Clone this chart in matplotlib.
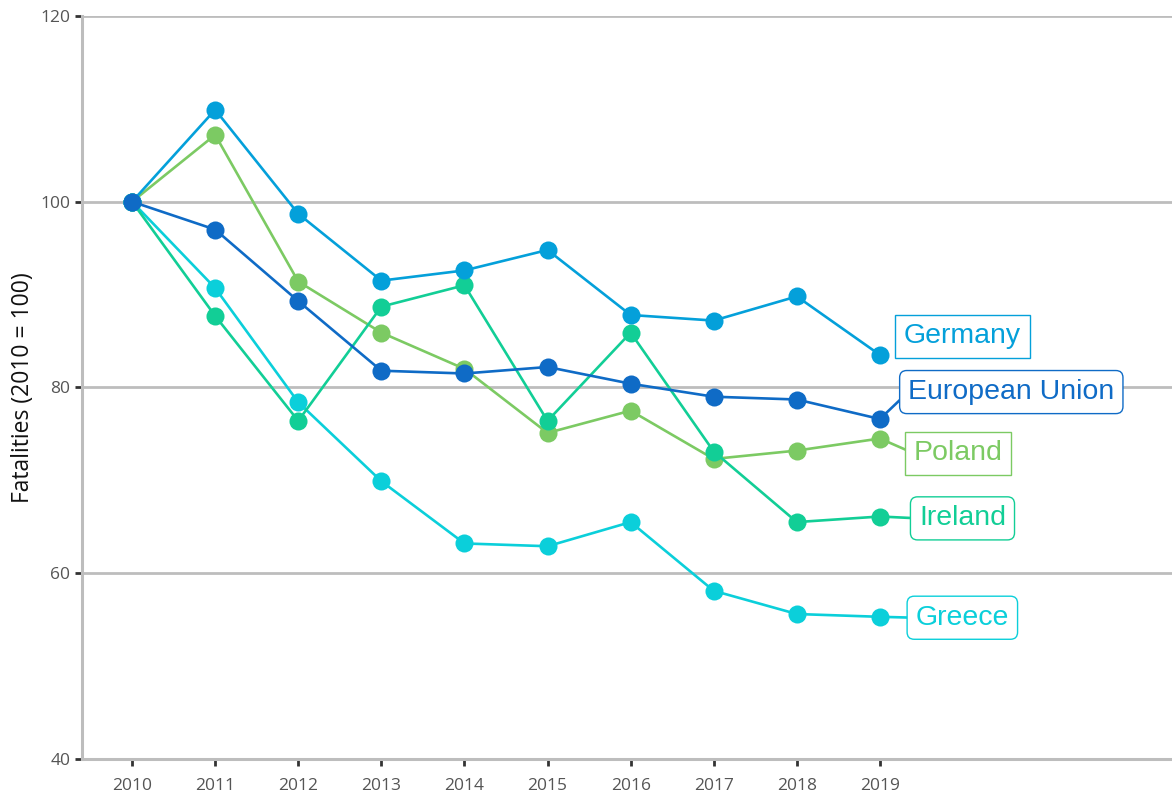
import matplotlib.pyplot as plt

# Data (2010 = 100)
years = [2010, 2011, 2012, 2013, 2014, 2015, 2016, 2017, 2018, 2019]
greece = [100, 90.7, 78.4, 69.9, 63.2, 62.9, 65.5, 58.1, 55.6, 55.3]
poland = [100, 107.2, 91.4, 85.9, 82.0, 75.1, 77.5, 72.3, 73.2, 74.5]
ireland = [100, 87.7, 76.4, 88.7, 91.0, 76.4, 85.9, 73.1, 65.5, 66.1]
germany = [100, 109.9, 98.7, 91.5, 92.6, 94.8, 87.8, 87.2, 89.8, 83.5]
eu = [100, 97.0, 89.3, 81.8, 81.5, 82.2, 80.4, 79.0, 78.7, 76.6]

series = [
    ("Greece", greece, "#0bcfda"),
    ("Poland", poland, "#7cca63"),
    ("Ireland", ireland, "#12ce96"),
    ("Germany", germany, "#04a0da"),
    ("European Union", eu, "#0f6bc6"),
]

# label anchor (x, y), box style, draw leader line
label_pos = {
    "Germany": (2019.29, 85.5, "square", False),
    "European Union": (2019.34, 79.5, "round,rounding_size=0.25", True),
    "Poland": (2019.41, 72.9, "square", True),
    "Ireland": (2019.47, 65.9, "round,rounding_size=0.25", True),
    "Greece": (2019.43, 55.2, "round,rounding_size=0.25", True),
}

fig = plt.figure(figsize=(11.72, 7.98), dpi=100)
ax = fig.add_axes([0.07, 0.049, 0.93, 0.931])

for z, (name, vals, col) in enumerate(series):
    ax.plot(years, vals, color=col, lw=1.9, marker="o", markersize=13,
            markeredgewidth=0, zorder=3 + z)
    lx, ly, style, leader = label_pos[name]
    if leader:
        ax.plot([years[-1], lx], [vals[-1], ly], color=col, lw=1.9, zorder=2)
    ax.text(lx, ly, name, color=col, fontsize=20.5, family="Liberation Sans",
            ha="left", va="center", zorder=10,
            bbox=dict(boxstyle=style + ",pad=0.3", fc="white", ec=col, lw=1.0))

ax.set_xlim(2009.398, 2022.515)
ax.set_ylim(40, 120)
ax.set_xticks(years)
ax.set_yticks([40, 60, 80, 100, 120])
for v in [60, 80, 100, 120]:
    ax.axhline(v, color="#bdbdbd", lw=2, zorder=1)

for s in ["top", "right"]:
    ax.spines[s].set_visible(False)
for s in ["left", "bottom"]:
    ax.spines[s].set_color("#bdbdbd")
    ax.spines[s].set_linewidth(2.2)

ax.tick_params(axis="both", colors="#333333", length=5, width=2,
               labelcolor="#555555", labelsize=12.5)
ax.tick_params(axis="x", pad=9)
for lab in ax.get_xticklabels() + ax.get_yticklabels():
    lab.set_family("Open Sans")

ax.set_ylabel("Fatalities (2010 = 100)", fontsize=16.5, family="Open Sans",
              color="#111111", labelpad=4)

fig.savefig("out.png", dpi=100)
